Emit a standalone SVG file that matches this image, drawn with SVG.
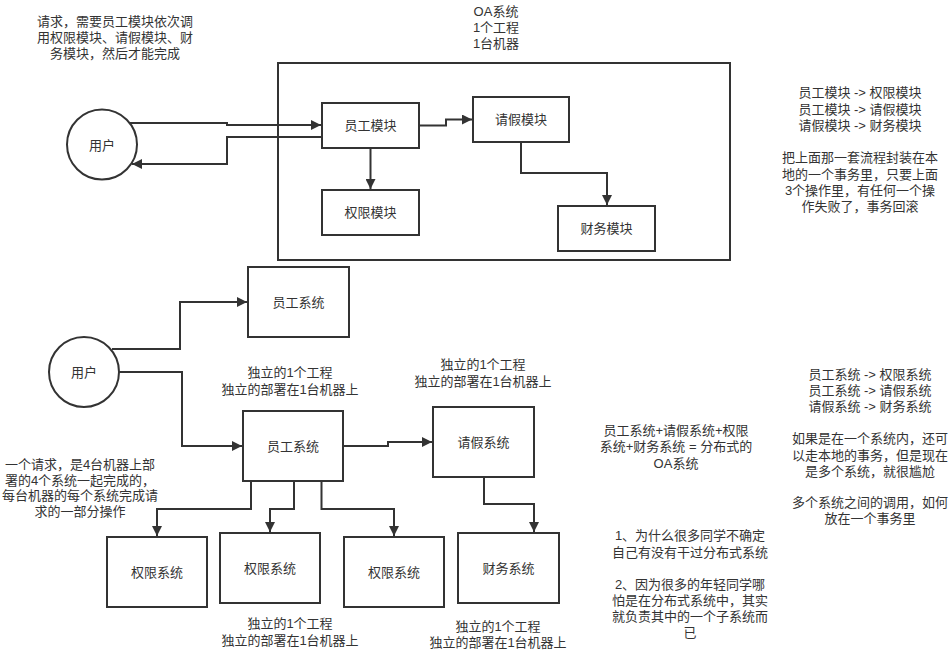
<svg xmlns="http://www.w3.org/2000/svg" width="952" height="656" viewBox="0 0 952 656" lang="zh-CN">
<style>
text{font-family:"Liberation Sans","Noto Sans CJK SC",sans-serif;font-size:13px;fill:#333;text-anchor:middle;dominant-baseline:central}
.box{fill:#fff;stroke:#333;stroke-width:2}
.c{fill:none;stroke:#333;stroke-width:2}
</style>
<defs>
<marker id="a" markerUnits="userSpaceOnUse" markerWidth="11" markerHeight="10" refX="10" refY="5" orient="auto"><path d="M0,0 L10,5 L0,10 z" fill="#333"/></marker>
</defs>
<rect width="952" height="656" fill="#fff"/>
<g id="oa">
<rect x="278" y="63" width="452" height="197" class="box"/>
<text x="496" y="11">OA系统<tspan x="496" dy="16">1个工程</tspan><tspan x="496" dy="16">1台机器</tspan></text>
</g>
<g id="user1"><circle cx="102" cy="144.5" r="35" class="box"/><text x="102" y="145">用户</text></g>
<g id="m1"><rect x="322" y="103" width="97" height="45" class="box"/><text x="370.5" y="125.5">员工模块</text></g>
<g id="m2"><rect x="473" y="97" width="96" height="45" class="box"/><text x="521" y="119.5">请假模块</text></g>
<g id="m3"><rect x="322" y="190" width="97" height="45" class="box"/><text x="370.5" y="212.5">权限模块</text></g>
<g id="m4"><rect x="558" y="206" width="97" height="45" class="box"/><text x="606.5" y="228.5">财务模块</text></g>
<g id="s1"><rect x="248" y="267" width="101" height="70" class="box"/><text x="298.5" y="302">员工系统</text></g>
<g id="user2"><circle cx="84" cy="372" r="35" class="box"/><text x="84" y="372">用户</text></g>
<g id="s2"><rect x="243" y="411" width="100" height="70" class="box"/><text x="293" y="446">员工系统</text></g>
<g id="s3"><rect x="433" y="407" width="101" height="70" class="box"/><text x="483.5" y="442">请假系统</text></g>
<g id="s4"><rect x="107" y="537" width="100" height="70" class="box"/><text x="157" y="572">权限系统</text></g>
<g id="s5"><rect x="220" y="533" width="100" height="70" class="box"/><text x="270" y="568">权限系统</text></g>
<g id="s6"><rect x="344" y="537" width="100" height="70" class="box"/><text x="394" y="572">权限系统</text></g>
<g id="s7"><rect x="458" y="533" width="101" height="70" class="box"/><text x="508.5" y="568">财务系统</text></g>
<g id="connectors">
<path class="c" d="M130,123 H227 V125 H321" marker-end="url(#a)"/>
<path class="c" d="M322,137 H227 V164 H132" marker-end="url(#a)"/>
<path class="c" d="M419,125.5 H446 V119.5 H472" marker-end="url(#a)"/>
<path class="c" d="M370.5,148 V189" marker-end="url(#a)"/>
<path class="c" d="M521,142 V173 H607 V205" marker-end="url(#a)"/>
<path class="c" d="M112,349 H180 V302 H247" marker-end="url(#a)"/>
<path class="c" d="M119,372 H182 V446 H242" marker-end="url(#a)"/>
<path class="c" d="M343,446 H388 V442 H432" marker-end="url(#a)"/>
<path class="c" d="M251,481 V509 H157 V536" marker-end="url(#a)"/>
<path class="c" d="M294,481 V509 H270 V532" marker-end="url(#a)"/>
<path class="c" d="M321.5,481 V509 H394 V536" marker-end="url(#a)"/>
<path class="c" d="M484,477 V504 H534 V532" marker-end="url(#a)"/>
</g>
<g id="notes">
<text x="115" y="21">请求，需要员工模块依次调<tspan x="115" dy="16">用权限模块、请假模块、财</tspan><tspan x="115" dy="16">务模块，然后才能完成</tspan></text>
<text x="860" y="92.5">员工模块 -&gt; 权限模块<tspan x="860" dy="16.3">员工模块 -&gt; 请假模块</tspan><tspan x="860" dy="16.3">请假模块 -&gt; 财务模块</tspan><tspan x="860" dy="32.2">把上面那一套流程封装在本</tspan><tspan x="860" dy="16.3">地的一个事务里，只要上面</tspan><tspan x="860" dy="16.3">3个操作里，有任何一个操</tspan><tspan x="860" dy="16.3">作失败了，事务回滚</tspan></text>
<text x="290" y="372.5">独立的1个工程<tspan x="290" dy="16">独立的部署在1台机器上</tspan></text>
<text x="483" y="364.5">独立的1个工程<tspan x="483" dy="16.5">独立的部署在1台机器上</tspan></text>
<text x="80" y="464">一个请求，是4台机器上部<tspan x="80" dy="15.7">署的4个系统一起完成的，</tspan><tspan x="80" dy="15.7">每台机器的每个系统完成请</tspan><tspan x="80" dy="15.7">求的一部分操作</tspan></text>
<text x="290" y="623.5">独立的1个工程<tspan x="290" dy="16.5">独立的部署在1台机器上</tspan></text>
<text x="498" y="626.5">独立的1个工程<tspan x="498" dy="15.5">独立的部署在1台机器上</tspan></text>
<text x="676" y="430">员工系统+请假系统+权限<tspan x="676" dy="16.4">系统+财务系统 = 分布式的</tspan><tspan x="676" dy="16.2">OA系统</tspan></text>
<text x="870" y="374">员工系统 -&gt; 权限系统<tspan x="870" dy="16">员工系统 -&gt; 请假系统</tspan><tspan x="870" dy="16">请假系统 -&gt; 财务系统</tspan><tspan x="870" dy="32.4">如果是在一个系统内，还可</tspan><tspan x="870" dy="16.3">以走本地的事务，但是现在</tspan><tspan x="870" dy="16.3">是多个系统，就很尴尬</tspan><tspan x="870" dy="31">多个系统之间的调用，如何</tspan><tspan x="870" dy="16">放在一个事务里</tspan></text>
<text x="690" y="535">1、为什么很多同学不确定<tspan x="690" dy="16.5">自己有没有干过分布式系统</tspan><tspan x="690" dy="32">2、因为很多的年轻同学哪</tspan><tspan x="690" dy="16.3">怕是在分布式系统中，其实</tspan><tspan x="690" dy="16.2">就负责其中的一个子系统而</tspan><tspan x="690" dy="16">已</tspan></text>
</g>
</svg>
